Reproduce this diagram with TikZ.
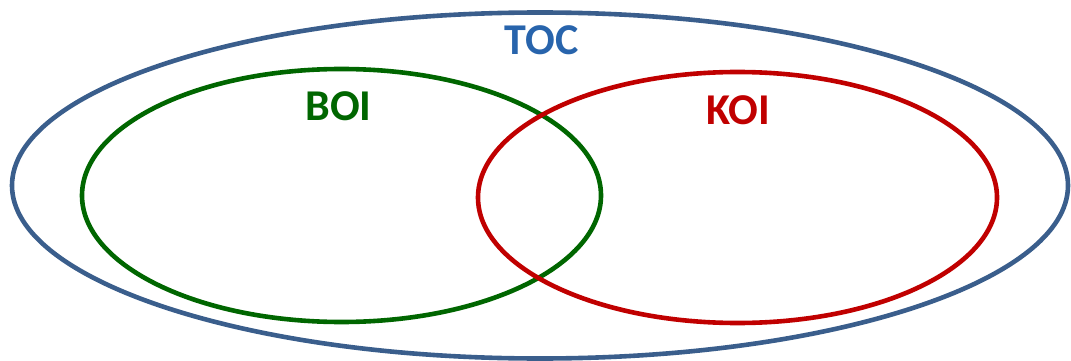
\documentclass[tikz,border=0pt]{standalone}
\usepackage{fontspec}
\setmainfont{Carlito}
\definecolor{tocline}{HTML}{3A5E8C}
\definecolor{toctext}{HTML}{2864AC}
\definecolor{boigreen}{HTML}{006600}
\definecolor{koired}{HTML}{C00000}
\tikzset{
  setline/.style={line width=4.6pt},
  setlabel/.style={font=\bfseries\fontsize{44}{44}\selectfont, inner sep=0pt, anchor=base}
}
\begin{document}
\begin{tikzpicture}[x=1pt,y=-1pt]
\useasboundingbox (0,0) rectangle (1071,361);
\draw[setline, tocline] (540,185.5) ellipse [x radius=528, y radius=173];
\draw[setline, boigreen] (341.5,195.5) ellipse [x radius=259.5, y radius=126.5];
\draw[setline, koired] (737.5,197.5) ellipse [x radius=259.5, y radius=125.5];
\node[setlabel, text=toctext] (toc) at (541.5,55) {TOC};
\node[setlabel, text=boigreen] (boi) at (338.5,120) {BOI};
\node[setlabel, text=koired] (koi) at (738,124) {KOI};
\end{tikzpicture}
\end{document}
